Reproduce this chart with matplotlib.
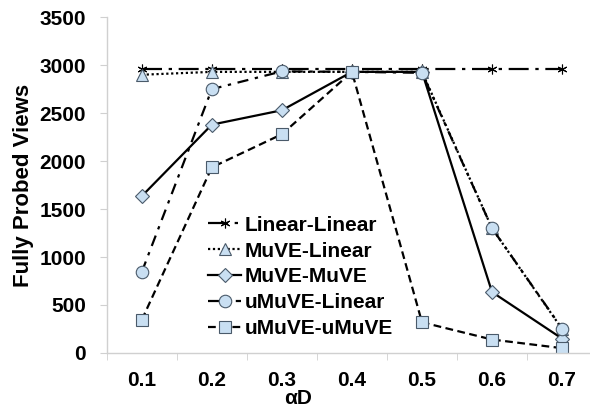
import matplotlib
matplotlib.use("Agg")
import matplotlib.pyplot as plt

plt.rcParams['font.family'] = ['Liberation Sans', 'DejaVu Sans']
plt.rcParams['font.weight'] = 'bold'

# data
alpha_d = ['0.1', '0.2', '0.3', '0.4', '0.5', '0.6', '0.7']
linear_linear = [2960, 2960, 2960, 2960, 2960, 2960, 2960]
muve_linear = [2900, 2930, 2930, 2930, 2930, 1300, 250]
muve_muve = [1635, 2380, 2530, 2930, 2930, 635, 150]
umuve_linear = [845, 2750, 2935, 2930, 2920, 1300, 255]
umuve_umuve = [345, 1935, 2280, 2930, 320, 140, 50]

fill = '#c9dff2'
edge = '#4a5a6a'

fig = plt.figure(figsize=(5.9, 4.09), dpi=100)
ax = fig.add_axes([0.181, 0.137, 1.012 - 0.181, 0.958 - 0.137])
x = list(range(1, len(alpha_d) + 1))

ax.plot(x, linear_linear, color='black', lw=1.6, dashes=(9, 3, 1.5, 3),
        marker=(6, 2, 0), ms=7, mec='black', mew=0.8, label='Linear-Linear')
ax.plot(x, muve_linear, color='black', lw=1.6, linestyle=(0, (1, 1.2)),
        marker='^', ms=9, mfc=fill, mec=edge, mew=0.8, label='MuVE-Linear')
ax.plot(x, muve_muve, color='black', lw=1.6, linestyle='-',
        marker='D', ms=7, mfc=fill, mec=edge, mew=0.8, label='MuVE-MuVE')
ax.plot(x, umuve_linear, color='black', lw=1.6, dashes=(5, 3, 1.5, 3),
        marker='o', ms=9, mfc=fill, mec=edge, mew=0.8, label='uMuVE-Linear')
ax.plot(x, umuve_umuve, color='black', lw=1.6, dashes=(3.5, 2),
        marker='s', ms=9, mfc=fill, mec=edge, mew=0.8, label='uMuVE-uMuVE')

ax.set_xlim(0.5, 7.5)
ax.set_ylim(0, 3500)
ax.set_yticks(range(0, 3501, 500))
ax.set_xticks(x)
ax.set_xticklabels(alpha_d, fontsize=15, fontweight='bold')
ax.set_xticks([v + 0.5 for v in range(0, 8)], minor=True)
ax.tick_params(axis='x', which='major', length=0, pad=13)
ax.tick_params(axis='x', which='minor', length=5, color='#d0d0d0', direction='out')
ax.tick_params(axis='y', length=5, color='#d0d0d0', labelsize=15, pad=10)
for lbl in ax.get_yticklabels():
    lbl.set_fontweight('bold')

for s in ['top', 'right']:
    ax.spines[s].set_visible(False)
for s in ['left', 'bottom']:
    ax.spines[s].set_color('#d0d0d0')
    ax.spines[s].set_linewidth(1)

ax.set_xlabel('αD', fontsize=15, fontweight='bold')
ax.xaxis.set_label_coords((298 - 107) / 490, -(399 - 353) / 336)
ax.xaxis.label.set_va('center')
ax.set_ylabel('Fully Probed Views', fontsize=16, fontweight='bold')
ax.yaxis.set_label_coords(-(107 - 24) / 490, 0.5)
ax.yaxis.label.set_va('center')

leg = ax.legend(loc='upper left', bbox_to_anchor=(0.185, 0.44), frameon=False,
                fontsize=15, handlelength=1.6, handletextpad=0.15,
                labelspacing=0.33, borderpad=0)
for t in leg.get_texts():
    t.set_fontweight('bold')

fig.savefig('out.png', dpi=100)
